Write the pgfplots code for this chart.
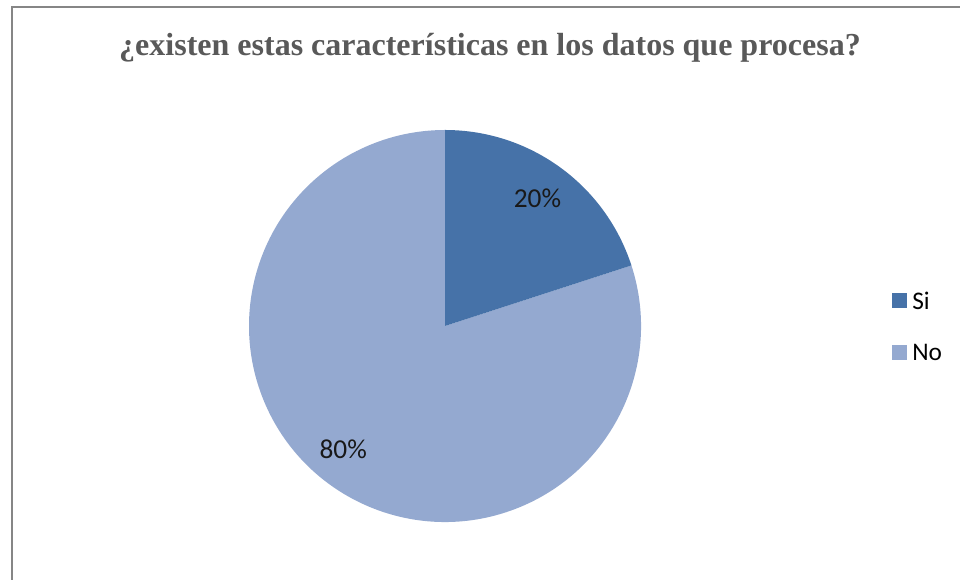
\documentclass[border=0pt]{standalone}
\usepackage{pgfplots}
\pgfplotsset{compat=1.18}
\usepackage{pgfplotstable}
\usepackage{fontspec}
\setmainfont{Carlito}
\newfontfamily\titlefont{Liberation Serif}
\definecolor{sicol}{HTML}{4672A8}
\definecolor{nocol}{HTML}{94A9D0}
\definecolor{titcol}{HTML}{595959}
\definecolor{framecol}{HTML}{868686}
\pgfplotstableread{
label value
Si 20
No 80
}\piedata
\begin{document}
\begin{tikzpicture}
\pgfplotstablegetelem{0}{value}\of\piedata \let\vSi\pgfplotsretval
\pgfplotstablegetelem{1}{value}\of\piedata \let\vNo\pgfplotsretval
\pgfmathsetmacro\tot{\vSi+\vNo}
\pgfmathsetmacro\aSi{90-\vSi/\tot*360}
\pgfmathsetmacro\aNo{\aSi-\vNo/\tot*360}
\pgfmathsetmacro\mSi{(90+\aSi)/2}
\pgfmathsetmacro\mNo{(\aSi+\aNo)/2-3.5}
\pgfmathtruncatemacro\pSi{round(\vSi/\tot*100)}
\pgfmathtruncatemacro\pNo{round(\vNo/\tot*100)}
\begin{axis}[
  x=0.75pt, y=0.75pt,
  xmin=0, xmax=960, ymin=0, ymax=580,
  hide axis, clip=true,
]
\fill[white] (axis cs:0,0) rectangle (axis cs:960,580);
\draw[framecol, line width=1.6pt] (axis cs:12,-20) -- (axis cs:12,573) -- (axis cs:990,573);
% pie
\fill[nocol] (axis cs:445,254) -- ++(\aSi:147pt) arc[start angle=\aSi, end angle=\aNo, radius=147pt] -- cycle;
\fill[sicol] (axis cs:445,254) -- ++(90:147pt) arc[start angle=90, end angle=\aSi, radius=147pt] -- cycle;
\path (axis cs:445,254) ++(\mSi:118pt) node[font=\fontsize{20.5}{24}\selectfont, text=black!90] {\pSi\%};
\path (axis cs:445,254) ++(\mNo:120pt) node[font=\fontsize{20.5}{24}\selectfont, text=black!90] {\pNo\%};
% title
\node[font=\titlefont\bfseries\fontsize{24}{28}\selectfont, text=titcol] at (axis cs:490,532) {¿existen estas características en los datos que procesa?};
% legend
\fill[sicol] (axis cs:892,272) rectangle (axis cs:907,287);
\node[anchor=west, inner sep=0pt, font=\fontsize{19}{22}\selectfont] at (axis cs:912,279.5) {Si};
\fill[nocol] (axis cs:892,220) rectangle (axis cs:907,235);
\node[anchor=west, inner sep=0pt, font=\fontsize{19}{22}\selectfont] at (axis cs:912,227.5) {No};
\end{axis}
\end{tikzpicture}
\end{document}
